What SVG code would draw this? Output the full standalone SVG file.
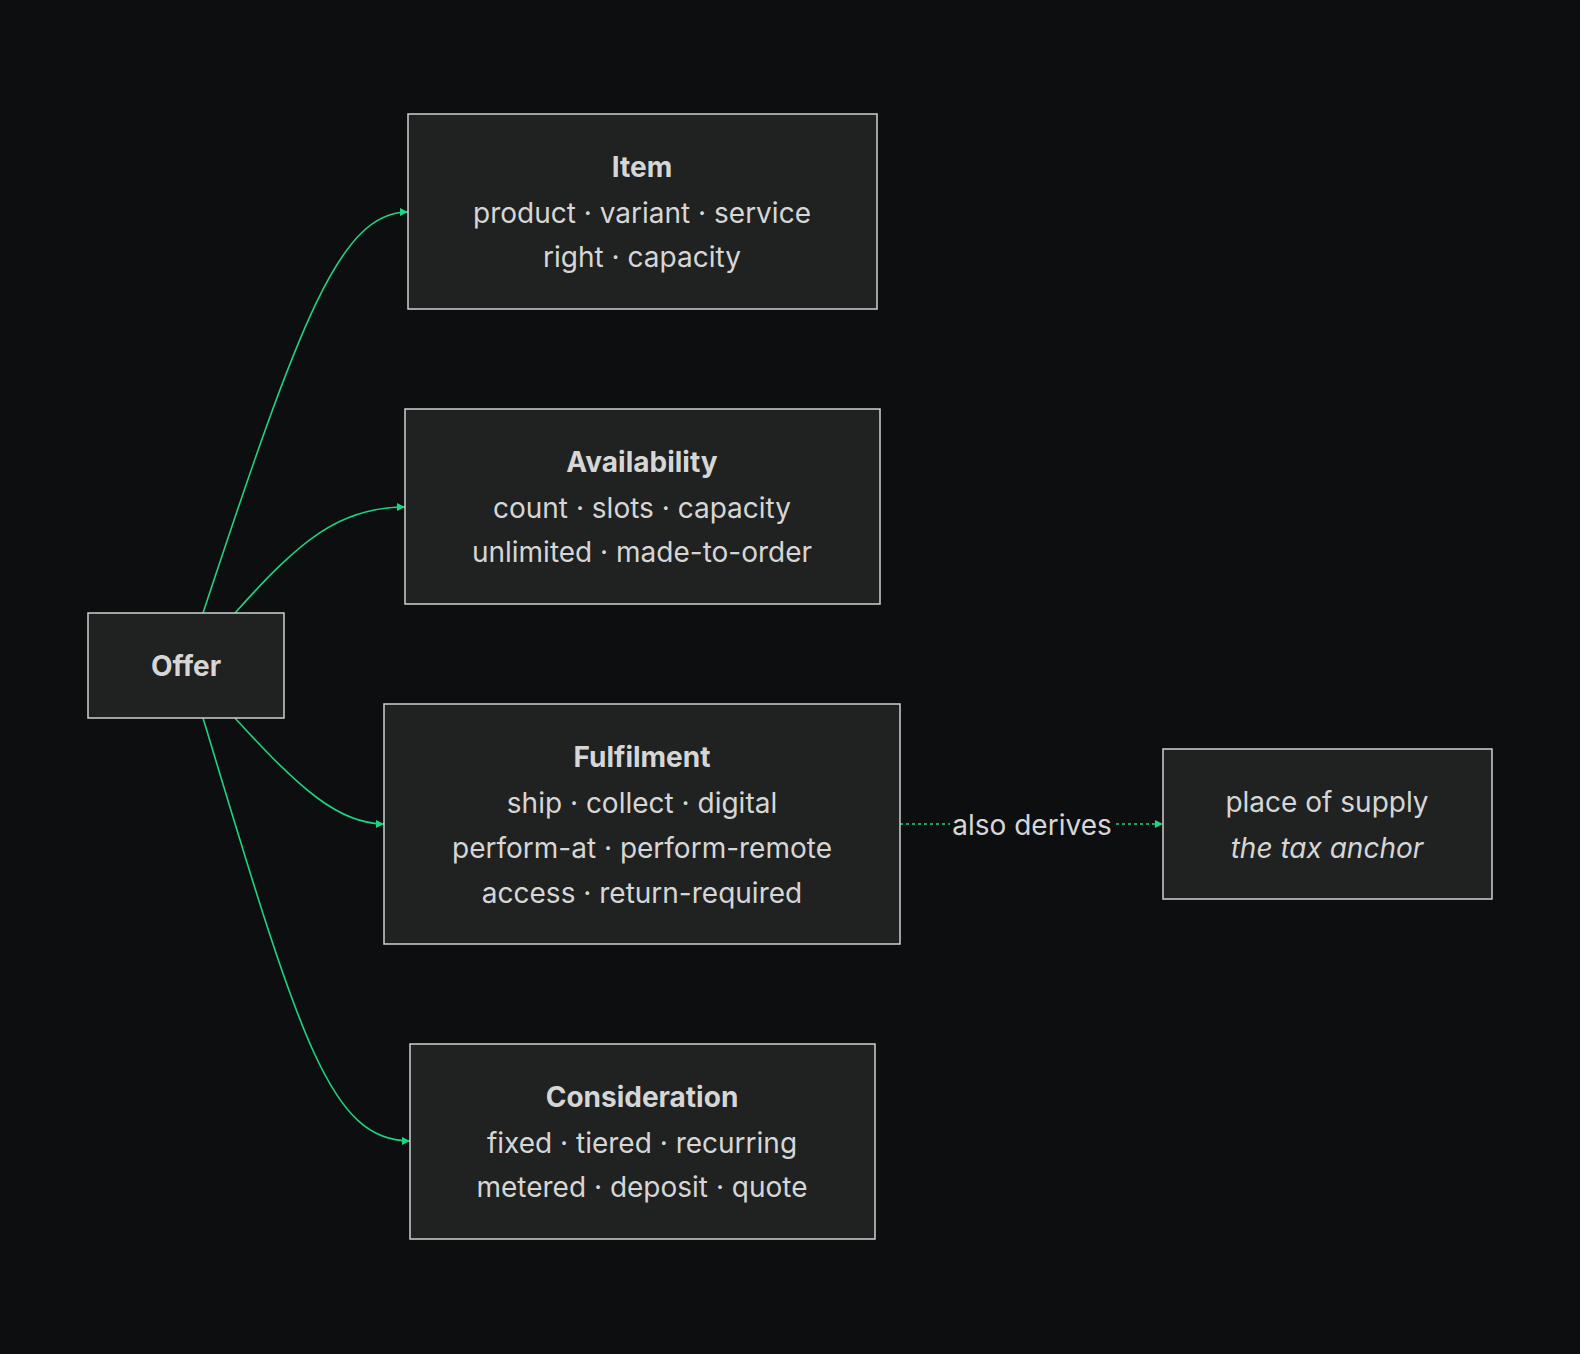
<svg xmlns="http://www.w3.org/2000/svg" width="1580" height="1354" viewBox="0 0 1580 1354">
<style>
.box{fill:#202221;stroke:#d0d0d0;stroke-width:1.5}
text{font-family:Inter,"Noto Sans",sans-serif;font-size:28px;fill:#d6d6d6;text-anchor:middle}
.t{font-weight:bold}
.i{font-style:italic}
.e{fill:none;stroke:#1fd47e;stroke-width:1.6}
</style>
<defs><marker id="a" viewBox="0 0 10 10" refX="10" refY="5" markerWidth="8" markerHeight="8" orient="auto" markerUnits="userSpaceOnUse" ><path d="M0,0L10,5L0,10z" fill="#1fd47e" transform="scale(1)"/></marker></defs>
<rect width="1580" height="1354" fill="#0d0e10"/>
<g id="connectors">
<path class="e" marker-end="url(#a)" d="M203,613 C300,320 340,212 408,212" style="marker-end:url(#a)"/>
<path class="e" d="M235,613 C300,540 340,507 405,507" style="marker-end:url(#a)"/>
<path class="e" d="M235,718 C300,790 340,824 384,824" style="marker-end:url(#a)"/>
<path class="e" d="M203,718 C300,1040 330,1141 410,1141" style="marker-end:url(#a)"/>
<path class="e" d="M900,824 L1163,824" stroke-dasharray="3,3" style="marker-end:url(#a)"/>
<rect x="950" y="808" width="164" height="32" fill="#0d0e10"/>
<text x="1032" y="835">also derives</text>
</g>
<g id="offer"><rect class="box" x="88" y="613" width="196" height="105"/><text class="t" x="186" y="676">Offer</text></g>
<g id="item"><rect class="box" x="408" y="114" width="469" height="195"/><text class="t" x="642" y="177">Item</text><text x="642" y="223">product · variant · service</text><text x="642" y="267">right · capacity</text></g>
<g id="availability"><rect class="box" x="405" y="409" width="475" height="195"/><text class="t" x="642" y="472">Availability</text><text x="642" y="518">count · slots · capacity</text><text x="642" y="562">unlimited · made-to-order</text></g>
<g id="fulfilment"><rect class="box" x="384" y="704" width="516" height="240"/><text class="t" x="642" y="767">Fulfilment</text><text x="642" y="813">ship · collect · digital</text><text x="642" y="858">perform-at · perform-remote</text><text x="642" y="903">access · return-required</text></g>
<g id="place"><rect class="box" x="1163" y="749" width="329" height="150"/><text x="1327" y="812">place of supply</text><text class="i" x="1327" y="858">the tax anchor</text></g>
<g id="consideration"><rect class="box" x="410" y="1044" width="465" height="195"/><text class="t" x="642" y="1107">Consideration</text><text x="642" y="1153">fixed · tiered · recurring</text><text x="642" y="1197">metered · deposit · quote</text></g>
</svg>
